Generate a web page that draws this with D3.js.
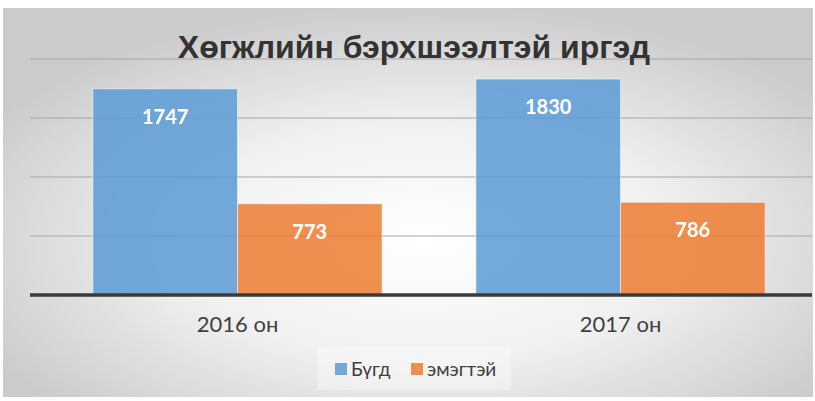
<!DOCTYPE html>
<html>
<head>
<meta charset="utf-8">
<script src="https://cdn.jsdelivr.net/npm/d3@7"></script>
<style>
  body { margin: 0; background: #fff; }
  svg { display: block; }
</style>
</head>
<body>
<div id="chart"></div>
<script>
// data
let categories = ["2016 он", "2017 он"];
let seriesNames = ["Бүгд", "эмэгтэй"];
let valuesAll = [1747, 1830];
let valuesWomen = [773, 786];
let yTicks = [500, 1000, 1500, 2000];
let titleText = "Хөгжлийн бэрхшээлтэй иргэд";

let colors = ["#5b9bd5", "#ed7d31"];

let svg = d3.select("#chart")
    .append("svg")
    .attr("width", 815)
    .attr("height", 401);

// background gradient
let defs = svg.append("defs");
let grad = defs.append("radialGradient")
    .attr("id", "bg")
    .attr("cx", "52%").attr("cy", "60%").attr("r", "62%");
grad.append("stop").attr("offset", "0%").attr("stop-color", "#ffffff");
grad.append("stop").attr("offset", "50%").attr("stop-color", "#f0f0f0");
grad.append("stop").attr("offset", "100%").attr("stop-color", "#cbcbcb");

svg.append("rect")
    .attr("x", 3).attr("y", 8)
    .attr("width", 810).attr("height", 389)
    .attr("fill", "url(#bg)");

let x0 = d3.scaleBand()
    .domain(categories)
    .range([46, 812])
    .paddingInner(0.245)
    .paddingOuter(0.1225);

let x1 = d3.scaleBand()
    .domain(seriesNames)
    .range([0, x0.bandwidth()]);

let y = d3.scaleLinear()
    .domain([0, 2000])
    .range([295, 59]);

// gridlines
svg.append("g")
    .selectAll("line")
    .data(yTicks)
    .enter()
    .append("line")
    .attr("x1", 30).attr("x2", 812)
    .attr("y1", d => y(d)).attr("y2", d => y(d))
    .attr("stroke", "#a6a6a6")
    .attr("stroke-width", 1);

// title
svg.append("text")
    .attr("x", 414).attr("y", 58)
    .attr("text-anchor", "middle")
    .attr("font-family", "Liberation Sans, Arial, sans-serif")
    .attr("font-weight", "bold")
    .attr("font-size", "32px")
    .attr("fill", "#333333")
    .text(titleText);

let rows = categories.map((c, i) => ({cat: c, vals: [valuesAll[i], valuesWomen[i]]}));

let groups = svg.selectAll(".grp")
    .data(rows)
    .enter()
    .append("g")
    .attr("class", "grp")
    .attr("transform", d => "translate(" + x0(d.cat) + ",0)");

groups.selectAll("rect")
    .data(d => d.vals.map((v, j) => ({name: seriesNames[j], v: v, j: j})))
    .enter()
    .append("rect")
    .attr("x", d => x1(d.name))
    .attr("y", d => y(d.v))
    .attr("width", x1.bandwidth())
    .attr("height", d => y(0) - y(d.v))
    .attr("fill", d => colors[d.j])
    .attr("fill-opacity", 0.85)
    .attr("stroke", "#ffffff")
    .attr("stroke-opacity", 0.5)
    .attr("stroke-width", 1);

groups.selectAll(".lbl")
    .data(d => d.vals.map((v, j) => ({name: seriesNames[j], v: v})))
    .enter()
    .append("text")
    .attr("class", "lbl")
    .attr("x", d => x1(d.name) + x1.bandwidth() / 2)
    .attr("y", d => y(d.v) + 35)
    .attr("text-anchor", "middle")
    .attr("font-family", "Lato, sans-serif")
    .attr("font-weight", "bold")
    .attr("font-size", "20px")
    .attr("fill", "#ffffff")
    .text(d => d.v);

// baseline
svg.append("line")
    .attr("x1", 30).attr("x2", 812)
    .attr("y1", y(0)).attr("y2", y(0))
    .attr("stroke", "#3a3a3a")
    .attr("stroke-width", 3.5);

// category labels
let xAxis = d3.axisBottom(x0).tickSize(0).tickPadding(0);
let ax = svg.append("g")
    .attr("transform", "translate(0,316)")
    .call(xAxis);
ax.select(".domain").remove();
ax.selectAll("text")
    .attr("dy", "0.71em")
    .attr("font-family", "Lato, sans-serif")
    .attr("font-size", "22px")
    .attr("fill", "#404040");

// legend
svg.append("rect")
    .attr("x", 317).attr("y", 347)
    .attr("width", 194).attr("height", 43)
    .attr("fill", "#ffffff")
    .attr("fill-opacity", 0.35);

let legX = [335, 411];
let leg = svg.selectAll(".leg")
    .data(seriesNames)
    .enter()
    .append("g")
    .attr("class", "leg")
    .attr("transform", (d, i) => "translate(" + legX[i] + ",363)");
leg.append("rect")
    .attr("width", 12).attr("height", 12)
    .attr("fill", (d, i) => colors[i])
    .attr("fill-opacity", 0.85);
leg.append("text")
    .attr("x", 16).attr("y", 12.5)
    .attr("font-family", "Lato, sans-serif")
    .attr("font-size", "19px")
    .attr("fill", "#404040")
    .text(d => d);
</script>
</body>
</html>
